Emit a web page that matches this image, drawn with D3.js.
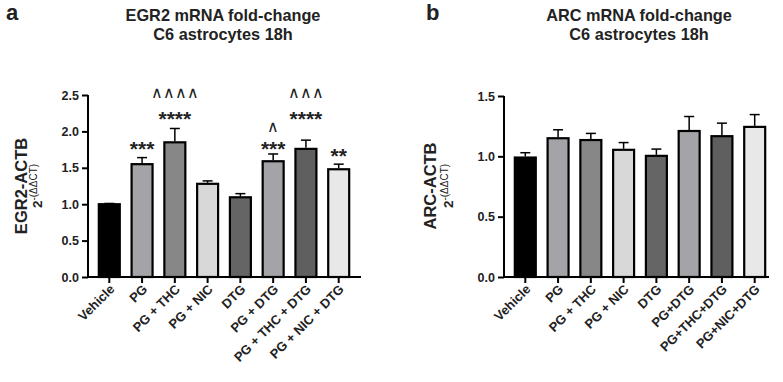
<!DOCTYPE html>
<html><head><meta charset="utf-8">
<script src="https://cdn.jsdelivr.net/npm/d3@7"></script>
<style>body{margin:0;background:#fff}svg{display:block;font-family:"Liberation Sans",Arial,sans-serif}</style>
</head><body><svg id="c" width="783" height="382"></svg>
<script>
const catsA = ["Vehicle","PG","PG + THC","PG + NIC","DTG","PG + DTG","PG + THC + DTG","PG + NIC + DTG"];
const catsB = ["Vehicle","PG","PG + THC","PG + NIC","DTG","PG+DTG","PG+THC+DTG","PG+NIC+DTG"];
const egr2Mean = [1.0,1.55,1.85,1.28,1.095,1.59,1.76,1.48];
const egr2Err  = [0.01,0.09,0.19,0.04,0.05,0.10,0.12,0.07];
const arcMean  = [0.99,1.15,1.135,1.054,1.004,1.21,1.167,1.244];
const arcErr   = [0.04,0.07,0.055,0.06,0.056,0.12,0.108,0.102];
const fills = ["#000000","#a4a4a8","#878787","#d8d8d8","#656565","#a4a4a8","#5f5f5f","#e8e8e8"];
const starsA = ["","***","****","","","***","****","**"];
const caretsA = ["","","^^^^","","","^","^^^",""];
const ticksA = [0,0.5,1.0,1.5,2.0,2.5];
const ticksB = [0,0.5,1.0,1.5];

const svg = d3.select("#c");

function panel(o){
  const g = svg.append("g");
  const y = d3.scaleLinear().domain([0,o.ymax]).range([277,o.ytop]);
  const x = d3.scaleBand().domain(o.cats).range([o.bx0,o.bx1]).paddingInner(0.36).paddingOuter(0.33);
  const ya = d3.axisLeft(y).tickValues(o.ticks).tickFormat(d3.format(".1f")).tickSize(6).tickSizeOuter(0);
  const yg = g.append("g").attr("transform",`translate(${o.ax},0)`).call(ya);
  yg.select(".domain").attr("stroke","#000").attr("stroke-width",2).attr("d",`M0,${o.ytop}V277`);
  yg.selectAll(".tick line").attr("stroke-width",2);
  yg.selectAll("text").attr("font-size",12.5).attr("font-weight","bold").attr("fill","#222").attr("x",-9).attr("font-family","Liberation Sans, Arial");
  g.selectAll("rect.bar").data(o.vals).join("rect").attr("class","bar")
    .attr("x",(d,i)=>x(o.cats[i])).attr("width",x.bandwidth())
    .attr("y",d=>y(d)).attr("height",d=>277-y(d))
    .attr("fill",(d,i)=>fills[i]).attr("stroke","#000").attr("stroke-width",2.2);
  o.vals.forEach((v,i)=>{
    const cx = x(o.cats[i])+x.bandwidth()/2;
    const yt = y(v+o.err[i]);
    g.append("line").attr("x1",cx).attr("x2",cx).attr("y1",y(v)-1).attr("y2",yt).attr("stroke","#000").attr("stroke-width",1.5);
    g.append("line").attr("x1",cx-5).attr("x2",cx+5).attr("y1",yt).attr("y2",yt).attr("stroke","#000").attr("stroke-width",1.5);
  });
  const xa = d3.axisBottom(x).tickSize(6).tickSizeOuter(0);
  const xg = g.append("g").attr("transform","translate(0,277)").call(xa);
  xg.select(".domain").attr("d",`M${o.ax},0H${o.axEnd}`).attr("stroke-width",2);
  xg.selectAll(".tick line").attr("stroke-width",2);
  xg.selectAll("text").attr("font-size",13).attr("font-weight","bold").attr("fill","#222")
    .attr("text-anchor","end").attr("dy",0).attr("y",0)
    .attr("transform","translate(6,13) rotate(-45)");
  g.append("text").attr("x",o.tx).attr("y",21).attr("text-anchor","middle").attr("font-size",16.3).attr("font-weight","bold").attr("fill","#222").text(o.title1);
  g.append("text").attr("x",o.tx).attr("y",40).attr("text-anchor","middle").attr("font-size",16.3).attr("font-weight","bold").attr("fill","#222").text("C6 astrocytes 18h");
  g.append("text").attr("x",o.lx).attr("y",20).attr("font-size",22).attr("font-weight","bold").attr("fill","#222").text(o.letter);
  g.append("text").attr("transform",`translate(${o.yt1},186) rotate(-90)`).attr("text-anchor","middle").attr("font-size",16.5).attr("font-weight","bold").attr("fill","#222").text(o.ytitle);
  const t2 = g.append("text").attr("transform",`translate(${o.yt2},186) rotate(-90)`).attr("text-anchor","middle").attr("fill","#222").attr("font-weight","bold");
  t2.append("tspan").attr("font-size",13.5).text("2");
  t2.append("tspan").attr("font-size",10).attr("font-weight","normal").attr("dy",-5).text("-(ΔΔCT)");
  return {x,y,g};
}

const A = panel({cats:catsA,vals:egr2Mean,err:egr2Err,ymax:2.5,ytop:95,ticks:ticksA,ax:88,axEnd:361,bx0:88,bx1:360,
  title1:"EGR2 mRNA fold-change",tx:223,letter:"a",lx:6,ytitle:"EGR2-ACTB",yt1:27,yt2:42});
const B = panel({cats:catsB,vals:arcMean,err:arcErr,ymax:1.5,ytop:96,ticks:ticksB,ax:504,axEnd:769,bx0:504,bx1:776,
  title1:"ARC mRNA fold-change",tx:639,letter:"b",lx:426,ytitle:"ARC-ACTB",yt1:436,yt2:453});

catsA.forEach((c,i)=>{
  const cx = A.x(c)+A.x.bandwidth()/2;
  if(starsA[i]){
    const n = starsA[i].length;
    const yy = n===4 ? 126 : (n===3 ? 156 : 163);
    A.g.append("text").attr("x",cx).attr("y",yy).attr("text-anchor","middle").attr("font-size",21).attr("font-weight","bold").attr("fill","#222").text(starsA[i]);
  }
  if(caretsA[i]){
    const yy = caretsA[i].length===1 ? 132 : 98;
    A.g.append("text").attr("x",cx).attr("y",yy).attr("text-anchor","middle").attr("font-size",16).attr("fill","#222").attr("letter-spacing",0).text(caretsA[i].replace(/\^/g,"∧"));
  }
});
</script></body></html>
